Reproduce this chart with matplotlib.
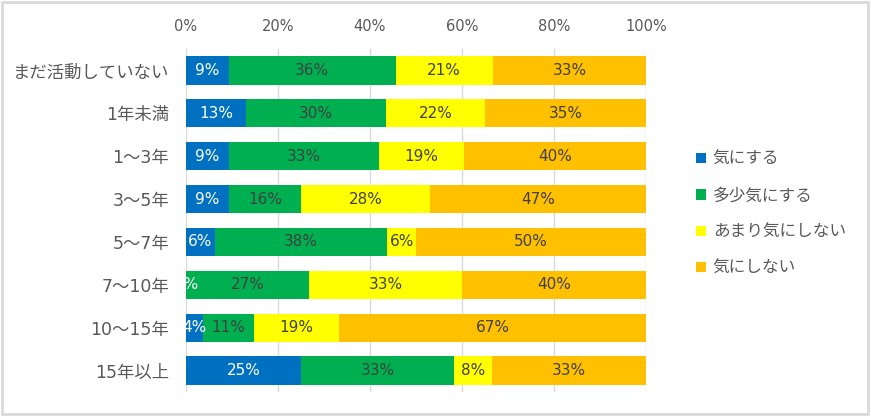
import matplotlib
matplotlib.use("Agg")
import matplotlib.pyplot as plt
from matplotlib.patches import Rectangle, Patch
import numpy as np

FAM = ['DejaVu Sans', 'Noto Sans CJK JP']
plt.rcParams['font.family'] = FAM

categories = ["まだ活動していない", "1年未満", "1～3年", "3～5年", "5～7年", "7～10年", "10～15年", "15年以上"]
series_names = ["気にする", "多少気にする", "あまり気にしない", "気にしない"]
kinisuru = [9.3, 13.0, 9.3, 9.4, 6.25, 0.0, 3.7, 25.0]
tashou = [36.3, 30.4, 32.6, 15.6, 37.5, 26.7, 11.1, 33.3]
amari = [21.1, 21.7, 18.6, 28.1, 6.25, 33.3, 18.5, 8.3]
kinishinai = [33.3, 34.8, 39.5, 46.9, 50.0, 40.0, 66.7, 33.3]
colors = ["#0070C0", "#00B050", "#FFFF00", "#FFC000"]
label_colors = ["white", "#404040", "#404040", "#404040"]

fig = plt.figure(figsize=(8.71, 4.16), dpi=100)
ax = fig.add_axes([186/871, 1-392/416, 460/871, 343/416])

data = [kinisuru, tashou, amari, kinishinai]
y = np.arange(len(categories))
left = np.zeros(len(categories))
handles = []
for vals, col, lc, name in zip(data, colors, label_colors, series_names):
    vals = np.array(vals)
    ax.barh(y, vals, left=left, height=0.66, color=col, label=name, zorder=3)
    for i, v in enumerate(vals):
        ax.text(left[i] + v/2, y[i], f"{int(v + 0.5)}%", ha="center", va="center",
                color=lc, fontsize=11, zorder=4)
    left += vals
    handles.append(Patch(facecolor=col, label=name))

ax.set_xlim(0, 100)
ax.set_ylim(len(categories)-0.5, -0.5)
ax.set_yticks(y)
ax.set_yticklabels(categories, fontsize=12.5, color="#595959")
ax.set_xticks(np.arange(0, 101, 20))
ax.set_xticklabels([f"{t}%" for t in range(0, 101, 20)], fontsize=10.5, color="#595959")
ax.xaxis.tick_top()
ax.tick_params(axis="y", length=0, pad=12)
ax.tick_params(axis="x", length=0, pad=11)
ax.grid(axis="x", color="#D9D9D9", linewidth=1, zorder=0)
for s in ax.spines.values():
    s.set_visible(False)

fig.legend(handles=handles, loc="upper left", bbox_to_anchor=(681/871, 1-135/416),
           frameon=False, fontsize=12, handlelength=0.6, handleheight=0.6,
           handletextpad=0.4, labelspacing=1.1, labelcolor="#595959")

fig.patches.append(Rectangle((0.002, 0.004), 0.994, 0.992, transform=fig.transFigure,
                             fill=False, edgecolor="#D9D9D9", linewidth=2))

fig.savefig("out.png", dpi=100)
